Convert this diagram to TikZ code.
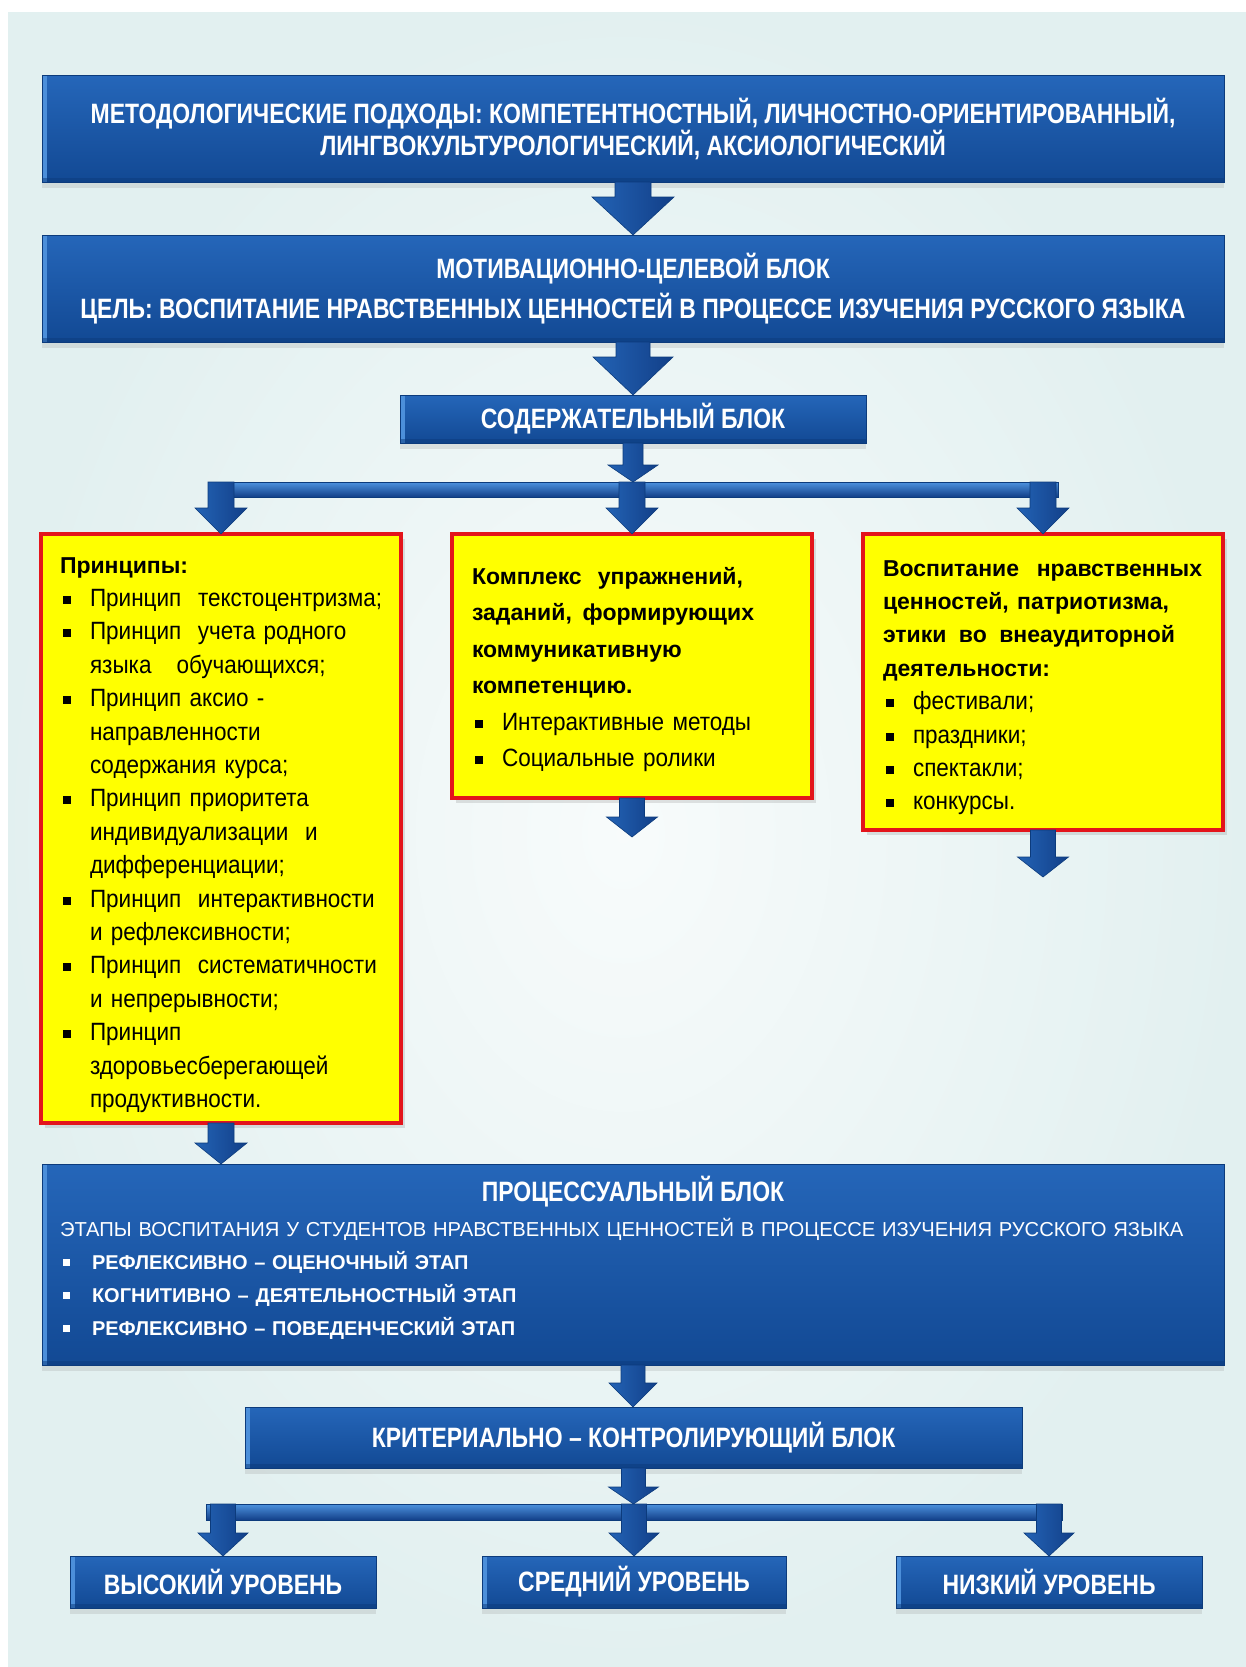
\documentclass[tikz,border=0pt]{standalone}
\usepackage{fontspec}
\setmainfont{Liberation Sans}
\newfontfamily\titlefont[FakeStretch=0.82]{Liberation Sans}
\newfontfamily\yelfont[FakeStretch=0.90]{Liberation Sans}
\usetikzlibrary{positioning}
\usetikzlibrary{calc}
\usetikzlibrary{shadows}

\definecolor{bgcyan}{HTML}{E2F0F0}
\definecolor{boxtop}{HTML}{2566B9}
\definecolor{boxbot}{HTML}{124994}
\definecolor{boxedge}{HTML}{0C3B7C}
\definecolor{bevel}{HTML}{4C8FDA}
\definecolor{arrowlight}{HTML}{4D92DE}
\definecolor{arrowmid}{HTML}{2363B5}
\definecolor{arrowdark}{HTML}{123F88}
\definecolor{yelfill}{HTML}{FFFF00}
\definecolor{redline}{HTML}{E3141B}

% bullets
\newcommand{\yitem}{\makebox[30pt][l]{\hspace{3pt}\raisebox{2.5pt}{\rule{8pt}{8pt}}}}
\newcommand{\ycont}{\hspace*{30pt}}
\newcommand{\bitem}{\makebox[32pt][l]{\hspace{3pt}\raisebox{3pt}{\rule{7pt}{7pt}}}}
% bold heading line in the yellow boxes
\newcommand{\yhead}[1]{{\normalfont\fontsize{23}{33}\selectfont\bfseries #1}}

% block arrow: start, end, half shaft, half head, head length
\newcommand{\flowarrow}[5]{%
  \path[arrowfill] let \p1=(#1), \p2=(#2) in
    (\x1-#3,\y1) -- (\x1+#3,\y1) -- (\x1+#3,\y2+#5) -- (\x1+#4,\y2+#5)
    -- (\x1,\y2) -- (\x1-#4,\y2+#5) -- (\x1-#3,\y2+#5) -- cycle;}

\begin{document}
\begin{tikzpicture}[
    x=1pt, y=-1pt,   % pixel grid, y going down
    ]
% -------------------------------------------------
\tikzset{
  base/.style={inner sep=0pt, outer sep=0pt},
  blueblock/.style={base, rectangle, draw=boxedge, line width=1pt,
    top color=boxtop, bottom color=boxbot, text=white, align=center,
    font=\titlefont\bfseries\fontsize{28}{32}\selectfont,
    drop shadow={shadow xshift=0pt, shadow yshift=-6pt, opacity=0.18},
    path picture={\fill[bevel] (path picture bounding box.north west)
      rectangle ([xshift=5pt]path picture bounding box.south west);
      \fill[boxedge, opacity=0.5] (path picture bounding box.south west)
      rectangle ([yshift=4pt]path picture bounding box.south east);}},
  yellowblock/.style={base, rectangle, draw=redline, line width=3.5pt,
    fill=yelfill, minimum width=360pt,
    drop shadow={shadow xshift=4pt, shadow yshift=-5pt, opacity=0.22}},
  ytext/.style={base, anchor=base west, text width=340pt, align=left,
    font=\yelfont\fontsize{25}{33.4}\selectfont},
  hbar/.style={base, rectangle, minimum height=15pt, top color=arrowlight,
    bottom color=arrowdark, draw=boxedge, line width=0.6pt},
  arrowfill/.style={left color=arrowmid, middle color=arrowlight,
    right color=arrowdark, draw=boxedge, line width=0.6pt}
}
\useasboundingbox (0,0) rectangle (1246,1667);
% background
\fill[bgcyan] (0,0) rectangle (1246,1667);
\shade[inner color=white!75!bgcyan, outer color=bgcyan] (0,0) rectangle (1246,1667);
\fill[white] (0,0) rectangle (8,1667);
\fill[white] (0,0) rectangle (1246,12);
% -------------------------------------------------
% Placing the nodes

\node[blueblock, minimum width=1182pt, minimum height=106pt] (metod) at (633,129)
  {МЕТОДОЛОГИЧЕСКИЕ ПОДХОДЫ: КОМПЕТЕНТНОСТНЫЙ, ЛИЧНОСТНО-ОРИЕНТИРОВАННЫЙ,\\ЛИНГВОКУЛЬТУРОЛОГИЧЕСКИЙ, АКСИОЛОГИЧЕСКИЙ};
\node[blueblock, minimum width=1182pt, minimum height=107pt] (motiv) at (633,288.5)
  {МОТИВАЦИОННО-ЦЕЛЕВОЙ БЛОК\\[8pt]ЦЕЛЬ: ВОСПИТАНИЕ НРАВСТВЕННЫХ ЦЕННОСТЕЙ В ПРОЦЕССЕ ИЗУЧЕНИЯ РУССКОГО ЯЗЫКА};
\node[blueblock, minimum width=466pt, minimum height=48pt] (content) at (633,419)
  {СОДЕРЖАТЕЛЬНЫЙ БЛОК};
\node[hbar, minimum width=850pt] (split1) at (633,489.5) {};

\node[yellowblock, minimum height=589pt] (prin) at (221,828.5) {};
\node[yellowblock, minimum height=264pt] (ex) at (632,666) {};
\node[yellowblock, minimum height=296pt] (vosp) at (1043,682) {};

\node[ytext] (prinlist) at ($(prin.north west)+(19,39)$)
  {\yhead{Принципы:}\\
   \yitem Принцип\ \ текстоцентризма;\\
   \yitem Принцип\ \ учета родного\\
   \ycont языка\ \ \ обучающихся;\\
   \yitem Принцип аксио -\\
   \ycont направленности\\
   \ycont содержания курса;\\
   \yitem Принцип приоритета\\
   \ycont индивидуализации\ \ и\\
   \ycont дифференциации;\\
   \yitem Принцип\ \ интерактивности\\
   \ycont и рефлексивности;\\
   \yitem Принцип\ \ систематичности\\
   \ycont и непрерывности;\\
   \yitem Принцип\\
   \ycont здоровьесберегающей\\
   \ycont продуктивности.};
\node[ytext, font=\yelfont\fontsize{25}{36.5}\selectfont] (exlist)
  at ($(ex.north west)+(20,50)$)
  {\yhead{\makebox[271pt][s]{Комплекс\hfill упражнений,}}\\
   \yhead{\makebox[282pt][s]{заданий,\hfill формирующих}}\\
   \yhead{коммуникативную}\\
   \yhead{компетенцию.}\\
   \yitem Интерактивные методы\\
   \yitem Социальные ролики};
\node[ytext] (vosplist) at ($(vosp.north west)+(20,42)$)
  {\yhead{\makebox[319pt][s]{Воспитание\hfill нравственных}}\\
   \yhead{ценностей, патриотизма,}\\
   \yhead{\makebox[292pt][s]{этики\hfill во\hfill внеаудиторной}}\\
   \yhead{деятельности:}\\
   \yitem фестивали;\\
   \yitem праздники;\\
   \yitem спектакли;\\
   \yitem конкурсы.};

\node[blueblock, minimum width=1182pt, minimum height=201pt] (proc) at (633,1264.5) {};
\node[base, text=white, font=\titlefont\bfseries\fontsize{28}{32}\selectfont] (proctitle)
  at ($(proc.north)+(0,28)$) {ПРОЦЕССУАЛЬНЫЙ БЛОК};
\node[base, anchor=base west, text width=1150pt, align=left, text=white,
  font=\fontsize{20.2}{33}\selectfont] (proclist) at ($(proc.north west)+(18,72)$)
  {ЭТАПЫ ВОСПИТАНИЯ У СТУДЕНТОВ НРАВСТВЕННЫХ ЦЕННОСТЕЙ В ПРОЦЕССЕ ИЗУЧЕНИЯ РУССКОГО ЯЗЫКА\\
   \bitem{\fontsize{20}{33}\selectfont\bfseries РЕФЛЕКСИВНО – ОЦЕНОЧНЫЙ ЭТАП}\\
   \bitem{\fontsize{20}{33}\selectfont\bfseries КОГНИТИВНО – ДЕЯТЕЛЬНОСТНЫЙ ЭТАП}\\
   \bitem{\fontsize{20}{33}\selectfont\bfseries РЕФЛЕКСИВНО – ПОВЕДЕНЧЕСКИЙ ЭТАП}};

\node[blueblock, minimum width=777pt, minimum height=61pt] (crit) at (633.5,1437.5)
  {КРИТЕРИАЛЬНО – КОНТРОЛИРУЮЩИЙ БЛОК};
\node[hbar, minimum width=856pt, minimum height=16pt] (split2) at (634,1512) {};
\node[blueblock, minimum width=306pt, minimum height=52pt] (high) at (223,1582) {ВЫСОКИЙ УРОВЕНЬ};
\node[blueblock, minimum width=304pt, minimum height=52pt] (mid) at (634,1582) {СРЕДНИЙ УРОВЕНЬ};
\node[blueblock, minimum width=306pt, minimum height=52pt] (low) at (1049,1582) {НИЗКИЙ УРОВЕНЬ};

\coordinate (exout) at ($(ex.south)+(1,39)$);
\coordinate (vospout) at ($(vosp.south)+(2,47)$);

% -------------------------------------------------
% Arrows
\flowarrow{metod.south}{motiv.north}{18pt}{41pt}{38pt}
\flowarrow{motiv.south}{content.north}{17pt}{40pt}{38pt}
\flowarrow{content.south}{split1.north}{10pt}{25pt}{17pt}
\flowarrow{prin.north |- split1.north}{prin.north}{13pt}{26pt}{26pt}
\flowarrow{ex.north |- split1.north}{ex.north}{13pt}{26pt}{26pt}
\flowarrow{vosp.north |- split1.north}{vosp.north}{13pt}{26pt}{26pt}
\flowarrow{ex.south}{exout}{12.5pt}{25.5pt}{20pt}
\flowarrow{vosp.south}{vospout}{12.5pt}{25.5pt}{20pt}
\flowarrow{prin.south}{proc.north}{13pt}{26pt}{21pt}
\flowarrow{proc.south}{crit.north}{12pt}{24pt}{24pt}
\flowarrow{crit.south}{split2.north}{12pt}{25pt}{17pt}
\flowarrow{high.north |- split2.north}{high.north}{12.5pt}{25pt}{23pt}
\flowarrow{mid.north |- split2.north}{mid.north}{12.5pt}{25pt}{23pt}
\flowarrow{low.north |- split2.north}{low.north}{12.5pt}{25pt}{23pt}

\end{tikzpicture}
\end{document}
